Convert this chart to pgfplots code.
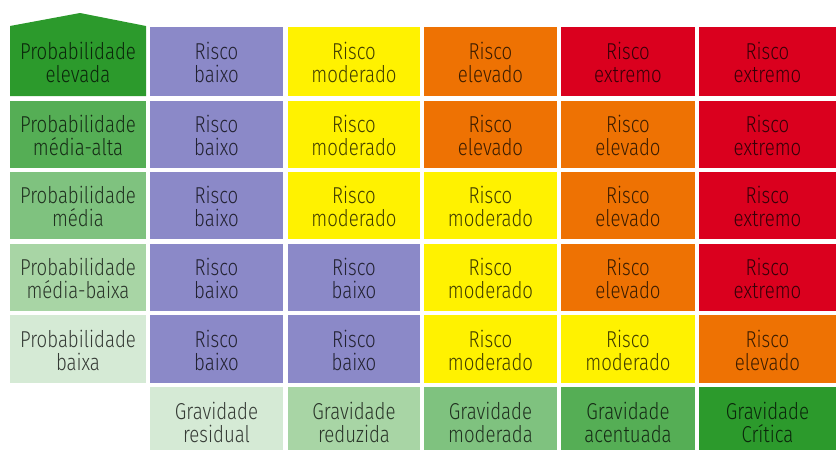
\documentclass[border=0pt]{standalone}
\usepackage{fontspec}
\setmainfont{Fira Sans}[FakeStretch=0.81, UprightFont=* Light]
\usepackage{pgfplots}
\pgfplotsset{compat=1.18}
\definecolor{g1}{RGB}{44,154,44}
\definecolor{g2}{RGB}{85,174,85}
\definecolor{g3}{RGB}{127,194,127}
\definecolor{g4}{RGB}{168,213,165}
\definecolor{g5}{RGB}{213,234,213}
\definecolor{rb}{RGB}{139,137,200}
\definecolor{rm}{RGB}{255,242,0}
\definecolor{re}{RGB}{238,114,3}
\definecolor{rx}{RGB}{218,0,30}
\newcommand{\cell}[6]{%
  \addplot[fill=#5, draw=none] coordinates {(#1,#3) (#2,#3) (#2,#4) (#1,#4)} -- cycle;
  \node[align=center, text=black, text opacity=0.75, font=\fontsize{23}{23}\selectfont]
     at (axis cs:{(#1+#2)/2},{(#3+#4)/2+1}) {#6};
}
\begin{document}
\begin{tikzpicture}
\begin{axis}[
  hide axis, scale only axis,
  width=836pt, height=450pt,
  xmin=0, xmax=836, ymin=0, ymax=450, y dir=reverse,
  clip=true,
]
\addplot[draw=none] coordinates {(0,0) (836,450)};
% row header arrow shape
\addplot[fill=g1, draw=none] coordinates {(10,96) (10,26) (80,13) (146,26) (146,96)} -- cycle;
\node[align=center, text=black, text opacity=0.75, font=\fontsize{23}{23}\selectfont]
   at (axis cs:78,62.5) {Probabilidade\\elevada};
% columns: [10,146] [150,283] [288,420] [424,557] [561,695] [699,836]
% rows: [27,96] [101,168] [172,239] [244,311] [315,383] [387,450]
\cell{150}{283}{27}{96}{rb}{Risco\\baixo}
\cell{288}{420}{27}{96}{rm}{Risco\\moderado}
\cell{424}{557}{27}{96}{re}{Risco\\elevado}
\cell{561}{695}{27}{96}{rx}{Risco\\extremo}
\cell{699}{836}{27}{96}{rx}{Risco\\extremo}
%
\cell{10}{146}{101}{168}{g2}{Probabilidade\\média-alta}
\cell{150}{283}{101}{168}{rb}{Risco\\baixo}
\cell{288}{420}{101}{168}{rm}{Risco\\moderado}
\cell{424}{557}{101}{168}{re}{Risco\\elevado}
\cell{561}{695}{101}{168}{re}{Risco\\elevado}
\cell{699}{836}{101}{168}{rx}{Risco\\extremo}
%
\cell{10}{146}{172}{239}{g3}{Probabilidade\\média}
\cell{150}{283}{172}{239}{rb}{Risco\\baixo}
\cell{288}{420}{172}{239}{rm}{Risco\\moderado}
\cell{424}{557}{172}{239}{rm}{Risco\\moderado}
\cell{561}{695}{172}{239}{re}{Risco\\elevado}
\cell{699}{836}{172}{239}{rx}{Risco\\extremo}
%
\cell{10}{146}{244}{311}{g4}{Probabilidade\\média-baixa}
\cell{150}{283}{244}{311}{rb}{Risco\\baixo}
\cell{288}{420}{244}{311}{rb}{Risco\\baixo}
\cell{424}{557}{244}{311}{rm}{Risco\\moderado}
\cell{561}{695}{244}{311}{re}{Risco\\elevado}
\cell{699}{836}{244}{311}{rx}{Risco\\extremo}
%
\cell{10}{146}{315}{383}{g5}{Probabilidade\\baixa}
\cell{150}{283}{315}{383}{rb}{Risco\\baixo}
\cell{288}{420}{315}{383}{rb}{Risco\\baixo}
\cell{424}{557}{315}{383}{rm}{Risco\\moderado}
\cell{561}{695}{315}{383}{rm}{Risco\\moderado}
\cell{699}{836}{315}{383}{re}{Risco\\elevado}
%
\cell{150}{283}{387}{456}{g5}{Gravidade\\residual}
\cell{288}{420}{387}{456}{g4}{Gravidade\\reduzida}
\cell{424}{557}{387}{456}{g3}{Gravidade\\moderada}
\cell{561}{695}{387}{456}{g2}{Gravidade\\acentuada}
\cell{699}{836}{387}{456}{g1}{Gravidade\\Crítica}
\end{axis}
\end{tikzpicture}
\end{document}
